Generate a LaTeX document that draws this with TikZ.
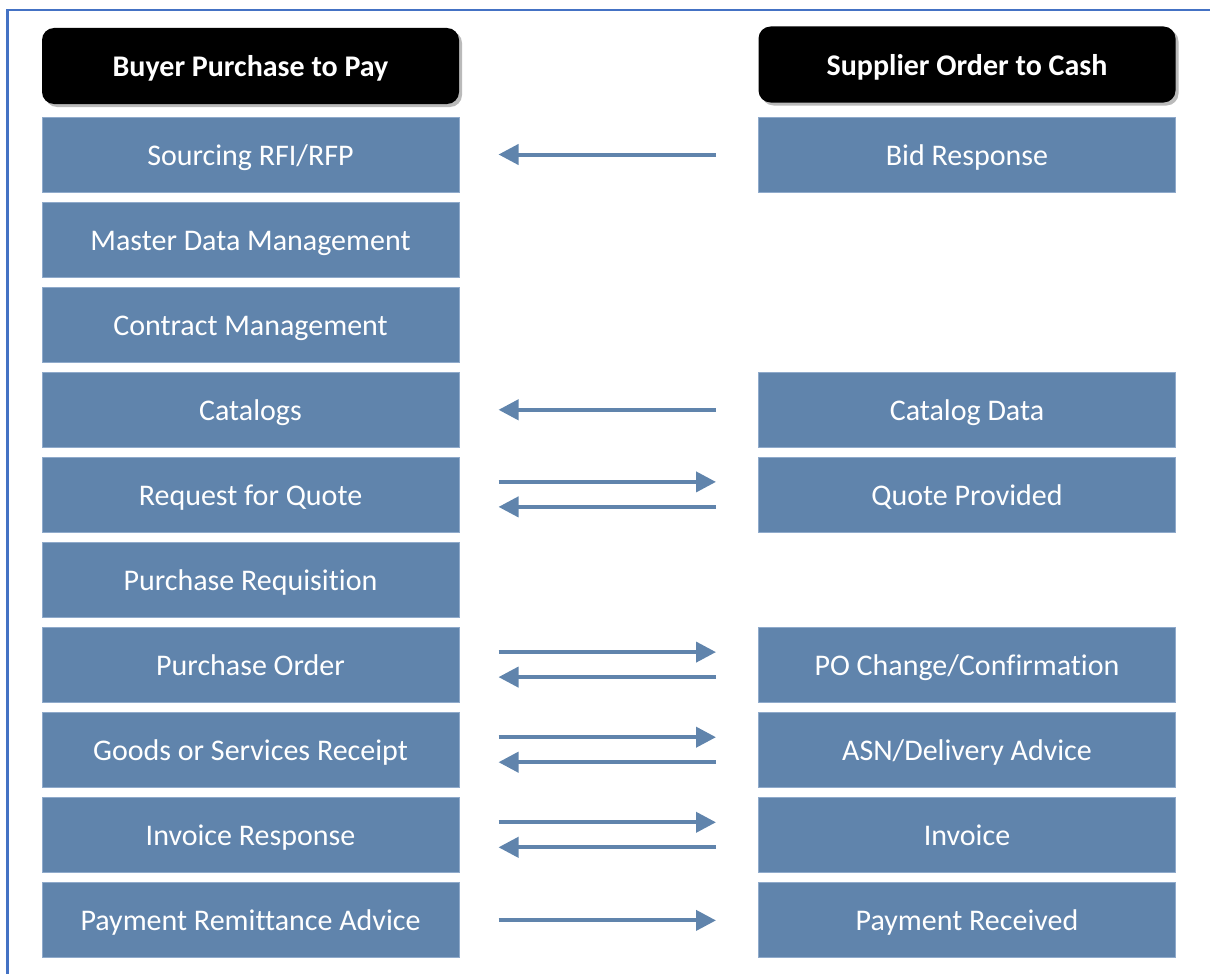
\documentclass[tikz,border=0pt]{standalone}
\usepackage{fontspec}
\setmainfont{Carlito}[RawFeature={-liga;-clig;-calt}]
\usetikzlibrary{arrows.meta,shadows}
\definecolor{stepblue}{HTML}{6084AC}
\definecolor{stepedge}{HTML}{8FAACB}
\definecolor{framecol}{HTML}{4472C4}
\tikzset{
  headbox/.style={fill=black, rounded corners=12pt, minimum width=417pt, minimum height=76pt,
    inner sep=0pt, text=white, font=\fontsize{30}{36}\selectfont\bfseries,
    text height=23pt, text depth=2pt,
    drop shadow={shadow xshift=3pt, shadow yshift=-3pt, fill=black!45, opacity=.6}},
  stepbox/.style={fill=stepblue, draw=stepedge, line width=1pt, minimum width=417pt,
    minimum height=75pt, inner sep=0pt, text=white, font=\fontsize{30}{36}\selectfont,
    text height=23pt, text depth=2pt},
  flow/.style={draw=stepblue, line width=4pt,
    -{Triangle[length=20pt,width=20pt]}, shorten >=0pt}
}
\begin{document}
\begin{tikzpicture}[x=1pt,y=-1pt]
\useasboundingbox (0,0) rectangle (1210,974);
% outer frame (top and left edges)
\draw[framecol, line width=2.5pt] (1210,10) -- (7.5,10) -- (7.5,974);

% column headers
\node[headbox] (hbuy) at (250.5,66) {Buyer Purchase to Pay};
\node[headbox] (hsup) at (967,64.5) {Supplier Order to Cash};

% buyer steps
\foreach \name/\txt [count=\i from 0] in {
  b1/Sourcing RFI\slash RFP, b2/Master Data Management, b3/Contract Management,
  b4/Catalogs, b5/Request for Quote, b6/Purchase Requisition, b7/Purchase Order,
  b8/Goods or Services Receipt, b9/Invoice Response, b10/Payment Remittance Advice}
  \node[stepbox] (\name) at (250.5,{154.5+85.1*\i}) {\txt};

% supplier steps
\node[stepbox] (s1)  at (967,154.5)            {Bid Response};
\node[stepbox] (s4)  at (967,{154.5+85.1*3})   {Catalog Data};
\node[stepbox] (s5)  at (967,{154.5+85.1*4})   {Quote Provided};
\node[stepbox] (s7)  at (967,{154.5+85.1*6})   {PO Change/Confirmation};
\node[stepbox] (s8)  at (967,{154.5+85.1*7})   {ASN/Delivery Advice};
\node[stepbox] (s9)  at (967,{154.5+85.1*8})   {Invoice};
\node[stepbox] (s10) at (967,{154.5+85.1*9})   {Payment Received};

% supplier -> buyer only
\foreach \r in {1,4}
  \draw[flow] ([xshift=-42pt]s\r.west) -- ([xshift=39pt]b\r.east);

% two-way exchanges
\foreach \r in {5,7,8,9} {
  \draw[flow] ([xshift=39pt,yshift=13pt]b\r.east) -- ([xshift=-42pt,yshift=13pt]s\r.west);
  \draw[flow] ([xshift=-42pt,yshift=-12pt]s\r.west) -- ([xshift=39pt,yshift=-12pt]b\r.east);
}

% buyer -> supplier only
\draw[flow] ([xshift=39pt]b10.east) -- ([xshift=-42pt]s10.west);
\end{tikzpicture}
\end{document}
